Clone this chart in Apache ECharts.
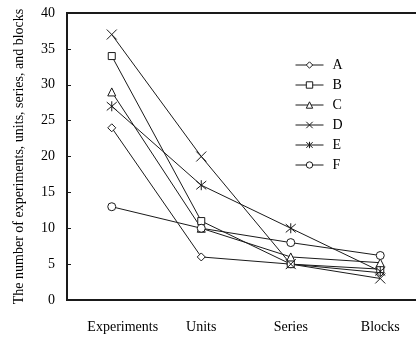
<!DOCTYPE html>
<html>
<head>
<meta charset="utf-8">
<script src="https://cdn.jsdelivr.net/npm/echarts@6/dist/echarts.min.js"></script>
<style>
  html, body { margin: 0; padding: 0; background: #fff; }
  #chart { width: 416px; height: 338px; }
</style>
</head>
<body>
<div id="chart"></div>
<script>
var categories = ['Experiments', 'Units', 'Series', 'Blocks'];
var seriesNames = ['A', 'B', 'C', 'D', 'E', 'F'];
var valuesA = [24, 6, 5, 3.8];
var valuesB = [34, 11, 5, 4.3];
var valuesC = [29, 10, 6, 5.2];
var valuesD = [37, 20, 5, 3];
var valuesE = [27, 16, 10, 4];
var valuesF = [13, 10, 8, 6.2];
var yTicks = [0, 5, 10, 15, 20, 25, 30, 35, 40];

var FONT = '"Liberation Serif", "DejaVu Serif", serif';
var INK = '#1a1a1a';

// open stroke-only markers for D (x) and E (*)
var crossPath = 'path://M0 0L10 10M10 0L0 10';
var starPath = 'path://M0 0L10 10M10 0L0 10M5 -1L5 11';

var markers = [
    { symbol: 'diamond', size: 8 },
    { symbol: 'rect', size: 7 },
    { symbol: 'triangle', size: 8 },
    { symbol: crossPath, size: 10 },
    { symbol: starPath, size: 10 },
    { symbol: 'circle', size: 8 }
];
var dataSets = [valuesA, valuesB, valuesC, valuesD, valuesE, valuesF];

var chart = echarts.init(document.getElementById('chart'));

var series = seriesNames.map(function (name, i) {
    return {
        name: name,
        type: 'line',
        data: dataSets[i],
        symbol: markers[i].symbol,
        symbolSize: markers[i].size,
        showAllSymbol: true,
        color: INK,
        lineStyle: { color: INK, width: 1 },
        itemStyle: { color: '#fff', borderColor: INK, borderWidth: 1 },
        emphasis: { disabled: true },
        animation: false
    };
});

var option = {
    backgroundColor: '#fff',
    animation: false,
    textStyle: { fontFamily: FONT },
    grid: {
        left: 67,
        top: 13,
        width: 358,
        height: 287,
        outerBoundsMode: 'none',
        containLabel: false,
        show: true,
        borderColor: INK,
        borderWidth: 2,
        backgroundColor: 'transparent'
    },
    legend: {
        orient: 'vertical',
        left: 290,
        top: 53,
        itemWidth: 28,
        itemHeight: 8,
        itemGap: 6,
        itemStyle: { color: '#fff', borderColor: INK, borderWidth: 1 },
        lineStyle: { color: INK, width: 1 },
        textStyle: { fontFamily: FONT, fontSize: 14, color: '#000', padding: [0, 0, 0, 4] },
        data: seriesNames
    },
    xAxis: {
        type: 'category',
        data: categories,
        boundaryGap: true,
        axisLine: { lineStyle: { color: INK, width: 2 } },
        axisTick: { inside: true, length: 4, lineStyle: { color: INK } },
        axisLabel: {
            interval: 0,
            margin: 20,
            fontFamily: FONT,
            fontSize: 14,
            color: '#000',
            formatter: function (v) {
                return v === 'Experiments' ? '{exp|' + v + '}' : v;
            },
            rich: {
                exp: { fontFamily: FONT, fontSize: 14, color: '#000', padding: [0, 0, 0, 22] }
            }
        },
        splitLine: { show: false }
    },
    yAxis: {
        type: 'value',
        min: yTicks[0],
        max: yTicks[yTicks.length - 1],
        interval: 5,
        name: 'The number of experiments, units, series, and blocks',
        nameLocation: 'middle',
        nameGap: 41,
        nameTextStyle: { fontFamily: FONT, fontSize: 14, color: '#000' },
        axisLine: { show: true, lineStyle: { color: INK, width: 2 } },
        axisTick: { show: true, inside: true, length: 4, lineStyle: { color: INK } },
        axisLabel: { margin: 12, fontFamily: FONT, fontSize: 14, color: '#000' },
        splitLine: { show: false }
    },
    series: series
};

chart.setOption(option);
</script>
</body>
</html>
